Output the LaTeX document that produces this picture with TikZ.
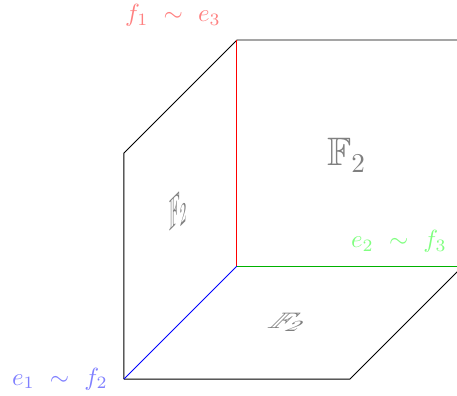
\documentclass[tikz,border=0pt]{standalone}
\usepackage{amssymb}
\usepackage{amsmath}
\usetikzlibrary{positioning}

\begin{document}
\begin{tikzpicture}[
    x=1.6cm, y=1.6cm,
 glue/.style = {font=\normalsize},
  fld/.style = {text=gray, inner sep=0pt}
                    ]
\useasboundingbox (-2.097,-1.150) rectangle (1.947,2.354);
\coordinate (o)  at (0,0);
\coordinate (e1) at (-1,-1);
\coordinate (e2) at (2,0);
\coordinate (e3) at (0,2);
\coordinate (l1) at (-1,1);
\coordinate (b1) at (1,-1);
\coordinate (t1) at (2,2);
% the three faces
\draw (e1) -- (l1) -- (e3) -- (t1);
\draw (e1) -- (b1) -- (e2);
% glued edges
\draw[red]            (o) -- (e3);
\draw[green!70!black] (o) -- (e2);
\draw[blue]           (o) -- (e1);
% edge labels
\node (g3) [glue, text=red!50,   above left=2pt and 3pt of e3] {$f_1\ \sim\ e_3$};
\node (g2) [glue, text=green!50, above left=2pt and 3pt of e2] {$e_2\ \sim\ f_3$};
\node (g1) [glue, text=blue!50,  left=3pt of e1]              {$e_1\ \sim\ f_2$};
% fields on the faces
\node (fb) [fld, font=\fontsize{16}{19}\selectfont] at (0.97,0.98) {$\mathbb{F}_2$};
\node (fl) [fld, cm={0.7,0.7,0,1.75,(0,0)}]        at (-0.52,0.49) {$\mathbb{F}_2$};
\node (fd) [fld, cm={1.3,0,0.9,0.9,(0,0)}]         at (0.47,-0.50) {$\mathbb{F}_2$};
\end{tikzpicture}
\end{document}
